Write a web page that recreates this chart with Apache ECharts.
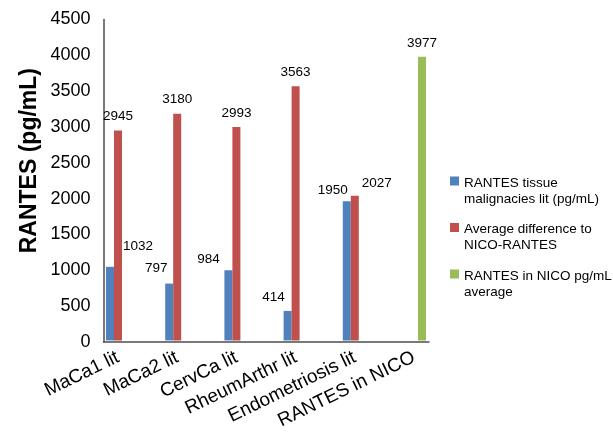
<!DOCTYPE html>
<html>
<head>
<meta charset="utf-8">
<script src="https://cdn.jsdelivr.net/npm/echarts@6/dist/echarts.min.js"></script>
<style>
html,body{margin:0;padding:0;background:#fff;}
#chart{width:613px;height:432px;}
</style>
</head>
<body>
<div id="chart"></div>
<script>
var categories = ['MaCa1 lit', 'MaCa2 lit', 'CervCa lit', 'RheumArthr lit', 'Endometriosis lit', 'RANTES in NICO'];
var seriesNames = ['RANTES tissue\nmalignacies lit (pg/mL)', 'Average difference to\nNICO-RANTES', 'RANTES in NICO pg/mL\naverage'];
var tissueValues = [1032, 797, 984, 414, 1950, null];
var differenceValues = [2945, 3180, 2993, 3563, 2027, null];
var nicoValues = [null, null, null, null, null, 3977];
var yTicks = {min: 0, max: 4500, interval: 500};

// label nudges (style only)
var tissueLabelOffset = [[28, -7], [-13, -1], [-20, 3], [-14, 0], [-14, 3], [0, 0]];
var diffLabelOffset = [[0, 0], [0, 0], [0, 0], [0, 0], [22, 1], [0, 0]];
var nicoLabelOffset = [[0, 0], [0, 0], [0, 0], [0, 0], [0, 0], [0, 0]];

var FONT = 'Liberation Sans, Arial, sans-serif';

function withOffsets(values, offsets) {
  return values.map(function (v, i) {
    if (v === null) return '-';
    return {value: v, label: {offset: offsets[i]}};
  });
}

var labelStyle = {
  show: true, position: 'top', distance: 7,
  fontFamily: FONT, fontSize: 13.5, color: '#000',
  formatter: '{c}'
};

// square swatch sitting at the top of a taller icon box, so it lines up with the first text line
var legendIcon = 'path://M0,0L9,0L9,9L0,9Z M0,29L0.01,29';

var chart = echarts.init(document.getElementById('chart'), null, {renderer: 'canvas'});
chart.setOption({
  backgroundColor: '#fff',
  animation: false,
  color: ['#4F81BD', '#C0504D', '#9BBB59'],
  grid: [
    {left: 88.4, right: 169.4, top: 19.5, bottom: 90},
    {left: 103.5, right: 184, top: 19.5, bottom: 90}
  ],
  legend: {
    orient: 'vertical',
    left: 450, top: 175,
    padding: 0,
    itemWidth: 9, itemHeight: 29,
    itemGap: 14.5,
    icon: legendIcon,
    selectedMode: false,
    textStyle: {fontFamily: FONT, fontSize: 13.5, color: '#000', lineHeight: 16},
    data: seriesNames
  },
  xAxis: [
    {
      type: 'category', gridIndex: 0, data: categories,
      axisLine: {show: false}, axisTick: {show: false},
      axisLabel: {rotate: 26, margin: 16, fontFamily: FONT, fontSize: 19, color: '#000', interval: 0}
    },
    {
      type: 'value', gridIndex: 1, min: 0, max: 1,
      axisLine: {show: true, lineStyle: {color: '#4d4d4d', width: 1.5}},
      axisTick: {show: false}, axisLabel: {show: false}, splitLine: {show: false}
    }
  ],
  yAxis: [
    {
      type: 'value', gridIndex: 0, min: yTicks.min, max: yTicks.max, interval: yTicks.interval,
      show: false
    },
    {
      type: 'value', gridIndex: 1, min: yTicks.min, max: yTicks.max, interval: yTicks.interval,
      axisLine: {show: true, lineStyle: {color: '#4d4d4d', width: 1.5}},
      axisTick: {show: false}, splitLine: {show: false},
      axisLabel: {margin: 13, fontFamily: FONT, fontSize: 18, color: '#000',
        formatter: function (v) { return String(v); }}
    }
  ],
  graphic: [{
    type: 'text', left: 18, top: 68,
    rotation: Math.PI / 2,
    style: {
      text: 'RANTES (pg/mL)', fontFamily: FONT, fontSize: 23, fontWeight: 'bold',
      fill: '#000'
    }
  }],
  series: [
    {name: seriesNames[0], type: 'bar', xAxisIndex: 0, yAxisIndex: 0, barWidth: 8, barGap: '0%',
     data: withOffsets(tissueValues, tissueLabelOffset), label: labelStyle},
    {name: seriesNames[1], type: 'bar', xAxisIndex: 0, yAxisIndex: 0, barWidth: 8, barGap: '0%',
     data: withOffsets(differenceValues, diffLabelOffset), label: labelStyle},
    {name: seriesNames[2], type: 'bar', xAxisIndex: 0, yAxisIndex: 0, barWidth: 8, barGap: '0%',
     data: withOffsets(nicoValues, nicoLabelOffset), label: labelStyle}
  ]
});
</script>
</body>
</html>
